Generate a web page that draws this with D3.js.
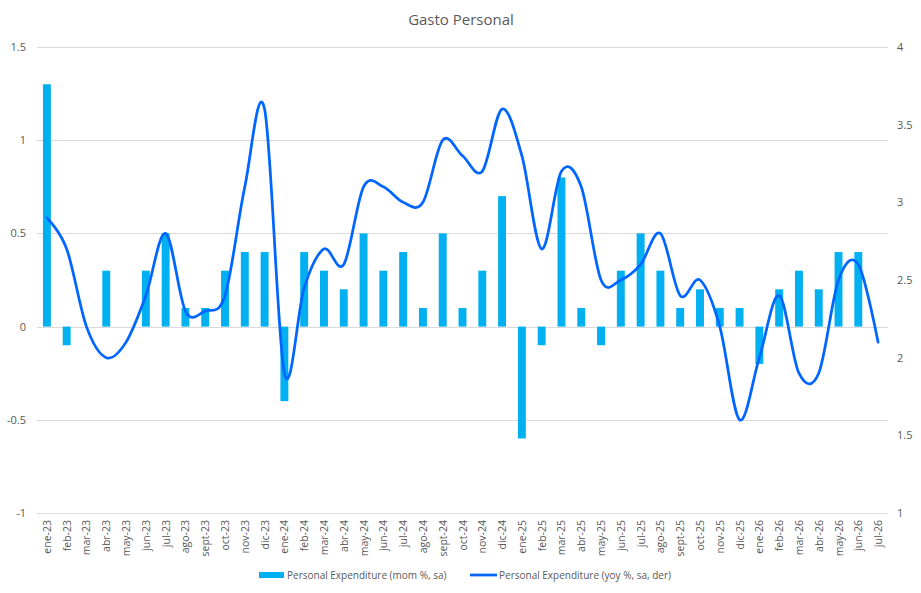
<!DOCTYPE html>
<html>
<head>
<meta charset="utf-8">
<script src="https://cdn.jsdelivr.net/npm/d3@7"></script>
<style>
  body { margin: 0; background: #fff; }
  svg text { font-family: "Open Sans", "Liberation Sans", sans-serif; fill: #595959; }
  .grid line { stroke: #d9d9d9; stroke-width: 1; }
</style>
</head>
<body>
<div id="chart"></div>
<script>
var months = ['ene-23','feb-23','mar-23','abr-23','may-23','jun-23','jul-23','ago-23','sept-23','oct-23','nov-23','dic-23',
              'ene-24','feb-24','mar-24','abr-24','may-24','jun-24','jul-24','ago-24','sept-24','oct-24','nov-24','dic-24',
              'ene-25','feb-25','mar-25','abr-25','may-25','jun-25','jul-25','ago-25','sept-25','oct-25','nov-25','dic-25',
              'ene-26','feb-26','mar-26','abr-26','may-26','jun-26','jul-26'];

// mom %, sa (left axis)
var momValues = [1.3,-0.1,0,0.3,0,0.3,0.5,0.1,0.1,0.3,0.4,0.4,
                 -0.4,0.4,0.3,0.2,0.5,0.3,0.4,0.1,0.5,0.1,0.3,0.7,
                 -0.6,-0.1,0.8,0.1,-0.1,0.3,0.5,0.3,0.1,0.2,0.1,0.1,
                 -0.2,0.2,0.3,0.2,0.4,0.4,0];

// yoy %, sa (right axis)
var yoyValues = [2.9,2.7,2.2,2.0,2.1,2.4,2.8,2.3,2.3,2.4,3.1,3.6,
                 1.9,2.45,2.7,2.6,3.1,3.1,3.0,3.0,3.4,3.3,3.2,3.6,
                 3.3,2.7,3.2,3.1,2.5,2.5,2.6,2.8,2.4,2.5,2.2,1.6,
                 2.0,2.4,1.9,1.9,2.5,2.6,2.1];

var leftTicks = [-1,-0.5,0,0.5,1,1.5];
var rightTicks = [1,1.5,2,2.5,3,3.5,4];

var width = 921, height = 593;
var margin = { top: 47, right: 33, bottom: 80, left: 37 };

var svg = d3.select('#chart')
    .append('svg')
    .attr('width', width)
    .attr('height', height);

var x = d3.scaleBand()
    .domain(months)
    .range([margin.left, width - margin.right])
    .paddingInner(0.6)
    .paddingOuter(0.3);

var yLeft = d3.scaleLinear()
    .domain([-1, 1.5])
    .range([height - margin.bottom, margin.top]);

var yRight = d3.scaleLinear()
    .domain([1, 4])
    .range([height - margin.bottom, margin.top]);

// plain hyphen minus like the original
var plainFormat = function(d) { return String(d); };

// title
svg.append('text')
    .attr('x', 461)
    .attr('y', 25)
    .attr('text-anchor', 'middle')
    .style('font-size', '15px')
    .text('Gasto Personal');

// gridlines
svg.append('g')
    .attr('class', 'grid')
    .selectAll('line')
    .data(leftTicks)
    .enter().append('line')
    .attr('x1', margin.left)
    .attr('x2', width - margin.right)
    .attr('y1', function(d) { return Math.round(yLeft(d)) + 0.5; })
    .attr('y2', function(d) { return Math.round(yLeft(d)) + 0.5; });

// left axis
var leftAxis = svg.append('g')
    .attr('transform', 'translate(' + 26 + ',0)')
    .call(d3.axisLeft(yLeft).tickValues(leftTicks).tickSize(0).tickFormat(plainFormat));
leftAxis.select('.domain').remove();
leftAxis.selectAll('text').style('font-size', '11px').attr('x', 0);

// right axis
var rightAxis = svg.append('g')
    .attr('transform', 'translate(' + 897 + ',0)')
    .call(d3.axisRight(yRight).tickValues(rightTicks).tickSize(0).tickFormat(plainFormat));
rightAxis.select('.domain').remove();
rightAxis.selectAll('text').style('font-size', '11px').attr('x', 0);

// bars
svg.selectAll('.bar')
    .data(months)
    .enter().append('rect')
    .attr('class', 'bar')
    .attr('x', function(d) { return x(d); })
    .attr('width', x.bandwidth())
    .attr('y', function(d, i) { return yLeft(Math.max(0, momValues[i])); })
    .attr('height', function(d, i) { return Math.abs(yLeft(momValues[i]) - yLeft(0)); })
    .style('fill', '#00b0f0');

// line (uniform catmull-rom, close to Excel smoothing)
var line = d3.line()
    .x(function(d, i) { return x(months[i]) + x.bandwidth() / 2; })
    .y(function(d) { return yRight(d); })
    .curve(d3.curveCatmullRom.alpha(0));

svg.append('path')
    .datum(yoyValues)
    .attr('d', line)
    .style('fill', 'none')
    .style('stroke', '#0066ff')
    .style('stroke-width', 2.75)
    .style('stroke-linejoin', 'round')
    .style('stroke-linecap', 'round');

// x labels
svg.append('g')
    .selectAll('text')
    .data(months)
    .enter().append('text')
    .attr('transform', function(d) {
        return 'translate(' + (x(d) + x.bandwidth() / 2 + 4) + ',' + 520 + ') rotate(-90)';
    })
    .attr('text-anchor', 'end')
    .style('font-size', '10.5px')
    .text(function(d) { return d; });

// legend
var legend = svg.append('g').attr('transform', 'translate(0,' + 575 + ')');
legend.append('rect')
    .attr('x', 259).attr('y', -3)
    .attr('width', 25).attr('height', 6)
    .style('fill', '#00b0f0');
legend.append('text')
    .attr('x', 287).attr('y', 0).attr('dy', '0.35em')
    .style('font-size', '10px')
    .text('Personal Expenditure (mom %, sa)');
legend.append('line')
    .attr('x1', 470).attr('x2', 497)
    .attr('y1', 0).attr('y2', 0)
    .style('stroke', '#0066ff')
    .style('stroke-width', 2.75);
legend.append('text')
    .attr('x', 499).attr('y', 0).attr('dy', '0.35em')
    .style('font-size', '10px')
    .text('Personal Expenditure (yoy %, sa, der)');
</script>
</body>
</html>
